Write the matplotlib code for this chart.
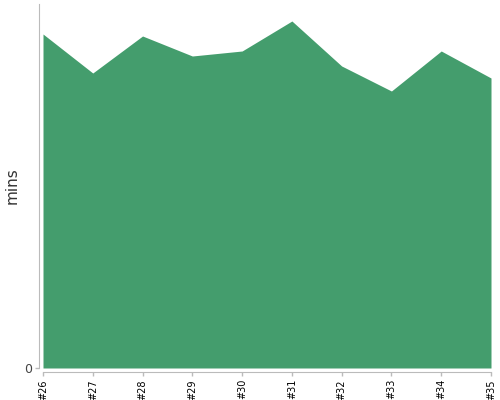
import matplotlib
matplotlib.use('Agg')
import matplotlib.pyplot as plt

# build ids and durations (mins)
builds = ['#26', '#27', '#28', '#29', '#30', '#31', '#32', '#33', '#34', '#35']
mins = [33.4, 29.5, 33.2, 31.2, 31.7, 34.7, 30.2, 27.7, 31.7, 29.0]

plt.rcParams['font.family'] = 'DejaVu Sans'

fig = plt.figure(figsize=(5, 4), dpi=100)
ax = fig.add_axes([0.086, 0.08, 0.896, 0.91])

x = list(range(len(builds)))
ax.fill_between(x, 0, mins, color='#449d6d', linewidth=0)

ax.set_xlim(0, len(builds) - 1)
ax.set_ylim(0, 36.4)
ax.set_xticks(x)
ax.set_xticklabels(builds)
ax.set_yticks([0])
ax.set_yticklabels(['0'])

for s in ['top', 'right']:
    ax.spines[s].set_visible(False)
for s in ['left', 'bottom']:
    ax.spines[s].set_color('#bbbbbb')
    ax.spines[s].set_position(('outward', 3))
ax.tick_params(axis='both', color='#bbbbbb', length=3, width=1, pad=2)
ax.tick_params(axis='x', labelrotation=90, labelsize=7, labelcolor='black')
ax.tick_params(axis='y', labelsize=9, labelcolor='#444444')

ax.set_ylabel('mins', fontsize=11, color='#333333')
ax.yaxis.set_label_coords(-0.052, 0.5)

fig.savefig('out.png', dpi=100)
